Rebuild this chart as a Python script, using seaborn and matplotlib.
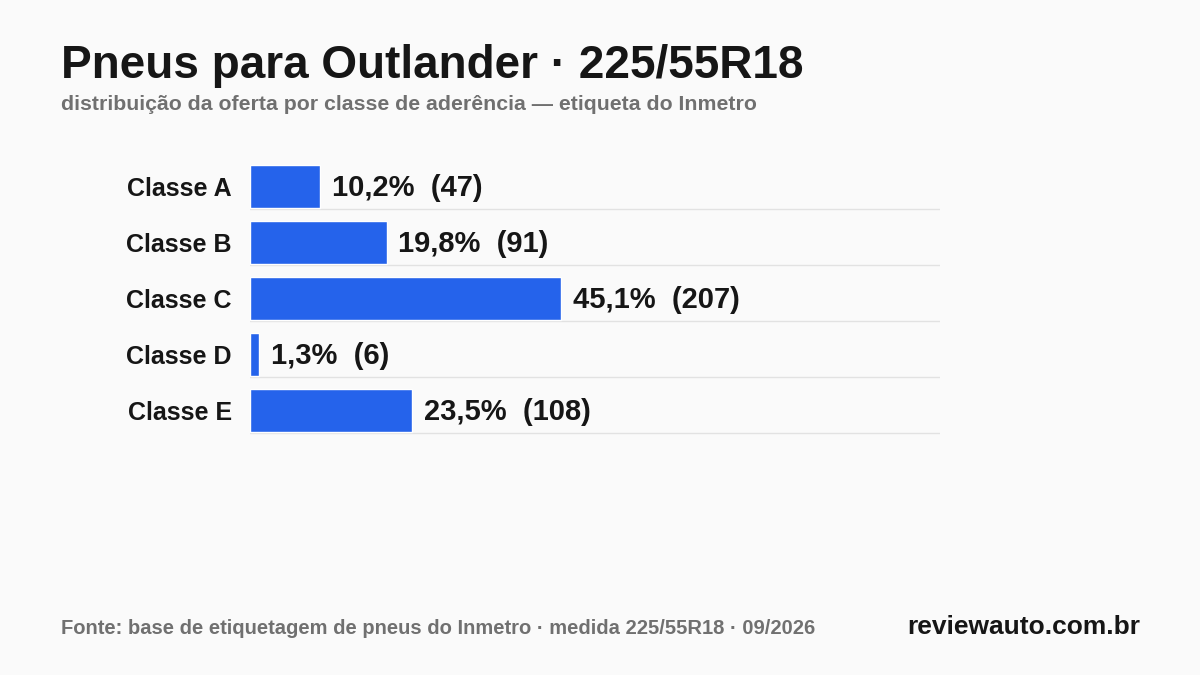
import pandas as pd
import matplotlib.pyplot as plt
import seaborn as sns

classes = ["Classe A", "Classe B", "Classe C", "Classe D", "Classe E"]
shares = [10.2, 19.8, 45.1, 1.3, 23.5]
counts = [47, 91, 207, 6, 108]

BG = "#fafafa"
BLUE = "#2563eb"
DARK = "#161616"
GRAY = "#707070"

sns.set_theme(style="white")
plt.rcParams["font.family"] = ["Liberation Sans", "DejaVu Sans"]
plt.rcParams["font.weight"] = "bold"

df = pd.DataFrame({"classe": classes, "pct": shares, "n": counts})

fig = plt.figure(figsize=(12, 6.75), dpi=100, facecolor=BG)
ax = fig.add_axes([0.2083, 0.3504, 0.575, 0.4148])
ax.set_facecolor(BG)

sns.barplot(data=df, x="pct", y="classe", orient="h", color=BLUE,
            saturation=1, width=0.77, ax=ax)

# thin separators under each row
for i in range(len(classes)):
    ax.axhline(i + 0.405, color="#e2e2e2", lw=1, zorder=0)

for i, (p, n) in enumerate(zip(shares, counts)):
    label = f"{p:.1f}%".replace(".", ",") + f"  ({n})"
    ax.annotate(label, xy=(p, i), xytext=(8.5, -1.2), textcoords="offset points",
                va="center", ha="left", fontsize=21, fontweight="bold", color=DARK)

ax.set_xlim(0, 100)
ax.set_ylim(len(classes) - 0.5, -0.5)
ax.set_xlabel("")
ax.set_ylabel("")
ax.set_xticks([])
ax.tick_params(axis="y", length=0, pad=13, labelsize=18, labelcolor=DARK)
for t in ax.get_yticklabels():
    t.set_fontweight("bold")
sns.despine(ax=ax, left=True, bottom=True)

fig.text(0.0508, 0.885, "Pneus para Outlander · 225/55R18", fontsize=33,
         fontweight="bold", color=DARK, ha="left", va="baseline")
fig.text(0.0508, 0.837, "distribuição da oferta por classe de aderência — etiqueta do Inmetro",
         fontsize=15.3, fontweight="bold", color=GRAY, ha="left", va="baseline")
fig.text(0.0508, 0.061, "Fonte: base de etiquetagem de pneus do Inmetro · medida 225/55R18 · 09/2026",
         fontsize=14.5, fontweight="bold", color=GRAY, ha="left", va="baseline")
fig.text(0.950, 0.061, "reviewauto.com.br", fontsize=19, fontweight="bold",
         color=DARK, ha="right", va="baseline")

fig.savefig("out.png", dpi=100, facecolor=BG)
